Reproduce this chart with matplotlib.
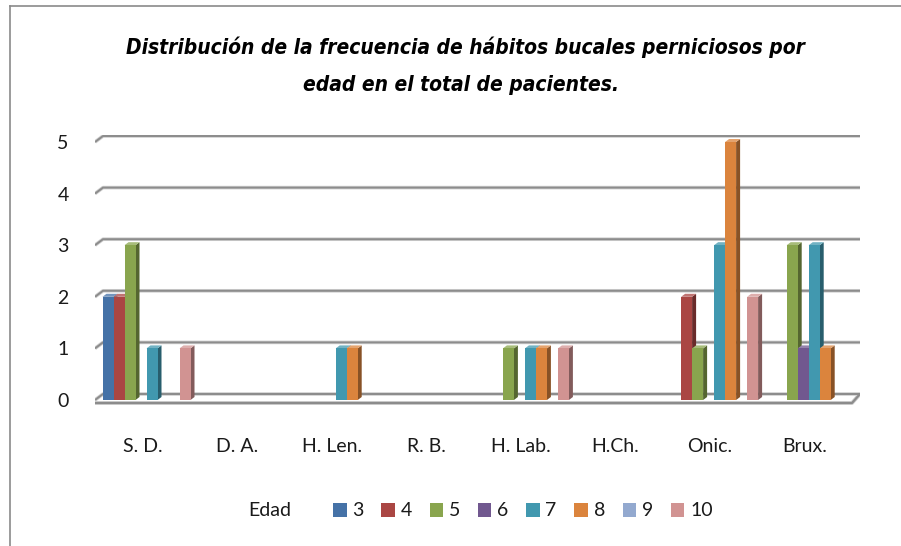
import matplotlib
matplotlib.use("Agg")
import matplotlib.pyplot as plt
from matplotlib.patches import Polygon, Rectangle
from matplotlib.lines import Line2D
import matplotlib.colors as mcolors
import numpy as np

categories = ["S. D.", "D. A.", "H. Len.", "R. B.", "H. Lab.", "H.Ch.", "Onic.", "Brux."]
ages = ["3", "4", "5", "6", "7", "8", "9", "10"]
v3 = [2, 0, 0, 0, 0, 0, 0, 0]
v4 = [2, 0, 0, 0, 0, 0, 2, 0]
v5 = [3, 0, 0, 0, 1, 0, 1, 3]
v6 = [0, 0, 0, 0, 0, 0, 0, 1]
v7 = [1, 0, 1, 0, 1, 0, 3, 3]
v8 = [0, 0, 1, 0, 1, 0, 5, 1]
v9 = [0, 0, 0, 0, 0, 0, 0, 0]
v10 = [1, 0, 0, 0, 1, 0, 2, 0]
series = [v3, v4, v5, v6, v7, v8, v9, v10]
colors = ["#4572A7", "#AA4643", "#89A54E", "#71588F", "#4198AF", "#DB843D", "#93A9CF", "#D19392"]
yticks = [0, 1, 2, 3, 4, 5]

W, H = 901, 546
fig = plt.figure(figsize=(W / 100, H / 100), dpi=100)
fig.patch.set_facecolor("white")

ax_l, ax_r, ax_b, ax_t = 95, 860, 405, 135
ax = fig.add_axes([ax_l / W, 1 - ax_b / H, (ax_r - ax_l) / W, (ax_b - ax_t) / H])
px_per_x = 94.6
px_per_y = 51.6
x0px = 142.5
ax.set_xlim(-(x0px - ax_l) / px_per_x, (ax_r - x0px) / px_per_x)
ax.set_ylim(-(ax_b - 400) / px_per_y, (400 - ax_t) / px_per_y)
ax.axis("off")

dxd = 8 / px_per_x
dyd = 6 / px_per_y
xl, xr = ax.get_xlim()
x_front_left = xl
x_back_left = xl + dxd
x_back_right = xr
x_front_right = xr - dxd

for v in yticks:
    xs = [x_front_left, x_back_left, x_back_right]
    ys = [v, v + dyd, v + dyd]
    ax.plot(xs, ys, color="#cfcfcf", lw=2.6, solid_capstyle="butt", zorder=1)
    ax.plot(xs, ys, color="#8c8c8c", lw=1.4, solid_capstyle="butt", zorder=1.1)
    ax.text(x_front_left - 32 / px_per_x, v - 0.03, str(v), ha="center", va="center",
            fontsize=14, family=["Lato", "DejaVu Sans"], color="#1a1a1a")

fy = -3 / px_per_y
ax.plot([x_front_left, x_front_right, x_back_right], [fy, fy, dyd], color="#cfcfcf", lw=2.8,
        solid_capstyle="butt", zorder=1)
ax.plot([x_front_left, x_front_right, x_back_right], [fy, fy, dyd], color="#8c8c8c", lw=1.6,
        solid_capstyle="butt", zorder=1.1)

bw = 11 / px_per_x
shift = 4 / px_per_x
sdx = 4 / px_per_x
sdy = 3 / px_per_y
xc = np.arange(len(categories))
for k, (vals, col) in enumerate(zip(series, colors)):
    xs = xc + shift + (k - 3.5) * bw
    rgb = np.array(mcolors.to_rgb(col))
    dark = tuple(rgb * 0.62)
    light = tuple(np.clip(rgb * 0.75 + 0.25, 0, 1))
    h = np.array(vals, dtype=float)
    mask = h > 0
    ax.bar(xs[mask], h[mask], width=bw, color=col, edgecolor="none", zorder=3 + k * 0.1,
           label=ages[k])
    for x, hv in zip(xs[mask], h[mask]):
        xa, xb = x - bw / 2, x + bw / 2
        side = Polygon([(xb, 0), (xb + sdx, sdy), (xb + sdx, hv + sdy), (xb, hv)],
                       closed=True, facecolor=dark, edgecolor="none", zorder=3 + k * 0.1 - 0.01)
        top = Polygon([(xa, hv), (xa + sdx, hv + sdy), (xb + sdx, hv + sdy), (xb, hv)],
                      closed=True, facecolor=light, edgecolor="none", zorder=3 + k * 0.1 - 0.01)
        ax.add_patch(side)
        ax.add_patch(top)

for i, c in enumerate(categories):
    ax.text(i, -(447 - 400) / px_per_y, c, ha="center", va="center", fontsize=14,
            family=["Lato", "DejaVu Sans"], color="#1a1a1a", clip_on=False)

tkw = dict(ha="center", va="center", fontsize=15, fontweight="bold", fontstyle="italic",
           fontstretch="condensed", family=["DejaVu Sans"], color="black")
fig.text(465 / W, 1 - 47 / H, "Distribución de la frecuencia de hábitos bucales perniciosos por", **tkw)
fig.text(461 / W, 1 - 85 / H, "edad en el total de pacientes.", **tkw)

fig.text(248 / W, 1 - 511 / H, "Edad", ha="left", va="center", fontsize=14,
         family=["Lato", "DejaVu Sans"], color="#1a1a1a")
handles = [Rectangle((0, 0), 1, 1, facecolor=c, edgecolor="none") for c in colors]
leg = fig.legend(handles, ages, loc="center left", bbox_to_anchor=(333 / W, 1 - 511 / H),
                 ncol=8, frameon=False, borderpad=0, borderaxespad=0,
                 handlelength=0.7, handleheight=0.7, handletextpad=0.3, columnspacing=0.9,
                 prop={"family": ["Lato", "DejaVu Sans"], "size": 14})
for t in leg.get_texts():
    t.set_color("#1a1a1a")

fig.add_artist(Line2D([10 / W, 1], [1 - 6 / H, 1 - 6 / H], transform=fig.transFigure,
                      color="#8a8a8a", lw=1.2))
fig.add_artist(Line2D([10 / W, 10 / W], [0, 1 - 6 / H], transform=fig.transFigure,
                      color="#8a8a8a", lw=1.2))

fig.savefig("out.png", dpi=100, facecolor="white")
